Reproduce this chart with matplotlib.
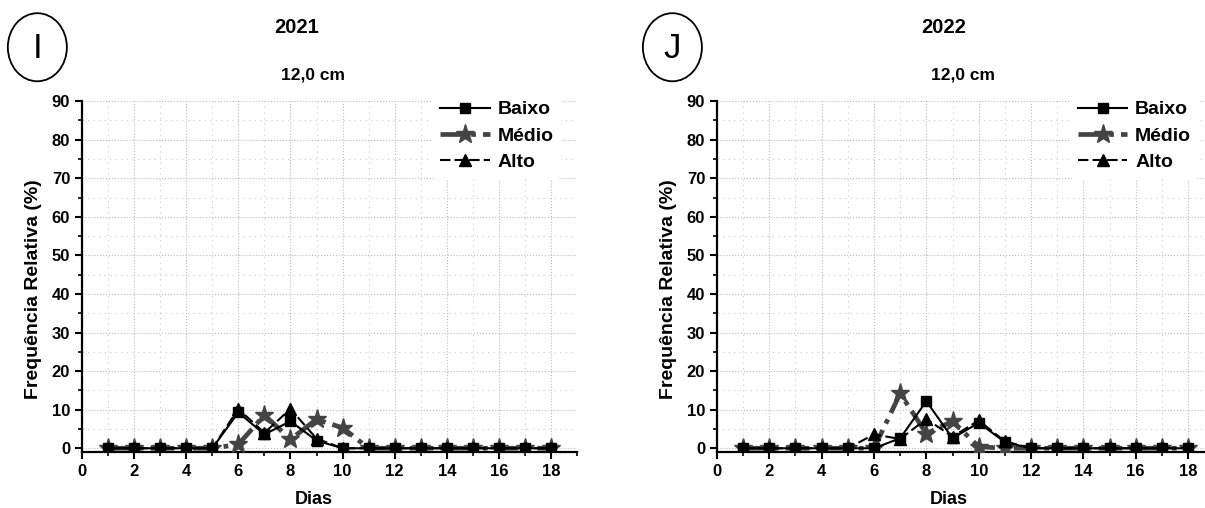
import matplotlib
matplotlib.use("Agg")
import matplotlib.pyplot as plt
from matplotlib.patches import Ellipse
from matplotlib.ticker import MultipleLocator

plt.rcParams["font.family"] = ["Liberation Sans", "DejaVu Sans"]

days = list(range(1, 19))

# 2021 - 12,0 cm
baixo_2021 = [0, 0, 0, 0, 0, 9.3, 3.6, 7.0, 2.0, 0, 0, 0, 0, 0, 0, 0, 0, 0]
medio_2021 = [0, 0, 0, 0, 0, 1.0, 8.6, 2.3, 7.5, 5.3, 0, 0, 0, 0, 0, 0, 0, 0]
alto_2021 = [0, 0, 0, 0, 0, 10.2, 4.0, 10.2, 2.5, 0, 0, 0, 0, 0, 0, 0, 0, 0]

# 2022 - 12,0 cm
baixo_2022 = [0, 0, 0, 0, 0, 0, 2.6, 12.2, 2.6, 6.6, 1.6, 0, 0, 0, 0, 0, 0, 0]
medio_2022 = [0, 0, 0, 0, 0, 0, 14.2, 3.8, 7.0, 0.4, 0, 0, 0, 0, 0, 0, 0, 0]
alto_2022 = [0, 0, 0, 0, 0, 3.6, 2.4, 7.6, 3.0, 7.2, 1.8, 0, 0, 0, 0, 0, 0, 0]

# year, letter, data, axes rect, xmax, title x, subtitle x, legend anchor,
# xlabel x, ylabel x
panels = [
    ("2021", "I", baixo_2021, medio_2021, alto_2021,
     [0.068, 0.110, 0.411, 0.691], 19.0, 0.246, 0.260, (0.3587, 0.817),
     0.469, -0.081),
    ("2022", "J", baixo_2022, medio_2022, alto_2022,
     [0.595, 0.110, 0.404, 0.691], 18.6, 0.783, 0.799, (0.888, 0.817),
     0.477, -0.082),
]

fig = plt.figure(figsize=(12.05, 5.08), dpi=100)

for (year, letter, baixo, medio, alto, rect, xmax,
     tx, sx, leg_xy, xlab_x, ylab_x) in panels:
    ax = fig.add_axes(rect)
    lb, = ax.plot(days, baixo, "-", color="black", lw=1.5, marker="s", ms=7, zorder=4)
    lm, = ax.plot(days, medio, color="#444444", lw=3.4, ls=(0, (5, 1.5, 1, 1.5)),
                  marker="*", ms=14, zorder=3)
    la, = ax.plot(days, alto, color="black", lw=1.5, ls=(0, (5, 2)),
                  marker="^", ms=8, zorder=5)

    ax.set_xlim(0, xmax)
    ax.set_ylim(-1, 90)
    ax.xaxis.set_major_locator(MultipleLocator(2))
    ax.xaxis.set_minor_locator(MultipleLocator(1))
    ax.yaxis.set_major_locator(MultipleLocator(10))
    ax.yaxis.set_minor_locator(MultipleLocator(5))
    ax.grid(True, which="major", color="#bbbbbb", ls=":", lw=0.8)
    ax.grid(True, which="minor", color="#cccccc", ls=(0, (1, 4)), lw=0.8)
    ax.set_axisbelow(True)

    for s in ["top", "right"]:
        ax.spines[s].set_visible(False)
    for s in ["left", "bottom"]:
        ax.spines[s].set_linewidth(1.6)
    ax.tick_params(which="major", length=5, width=1.5, labelsize=12)
    ax.tick_params(which="minor", length=3, width=1.2)
    for lab in ax.get_xticklabels() + ax.get_yticklabels():
        lab.set_fontweight("bold")

    ax.set_xlabel("Dias", fontsize=13, fontweight="bold")
    ax.xaxis.set_label_coords(xlab_x, -0.11)
    ax.set_ylabel("Frequência Relativa (%)", fontsize=14, fontweight="bold")
    ax.yaxis.set_label_coords(ylab_x, 0.464)

    ax.legend([lb, lm, la], ["Baixo", "Médio", "Alto"], loc="upper left",
              bbox_to_anchor=leg_xy, bbox_transform=fig.transFigure,
              frameon=True, edgecolor="none", facecolor="white", framealpha=1,
              handlelength=2.55, handletextpad=0.4, labelspacing=0.45,
              borderpad=0.4, borderaxespad=0,
              prop={"weight": "bold", "size": 14})

    fig.text(tx, 0.945, year, ha="center", va="center",
             fontsize=14.5, fontweight="bold")
    fig.text(sx, 0.852, "12,0 cm", ha="center", va="center",
             fontsize=12.5, fontweight="bold")

    ex = rect[0] - 0.037
    fig.add_artist(Ellipse((ex, 0.907), 0.049, 0.134, transform=fig.transFigure,
                           fill=False, edgecolor="black", lw=1.3))
    fig.text(ex, 0.905, letter, ha="center", va="center", fontsize=25)

fig.savefig("out.png", dpi=100)
